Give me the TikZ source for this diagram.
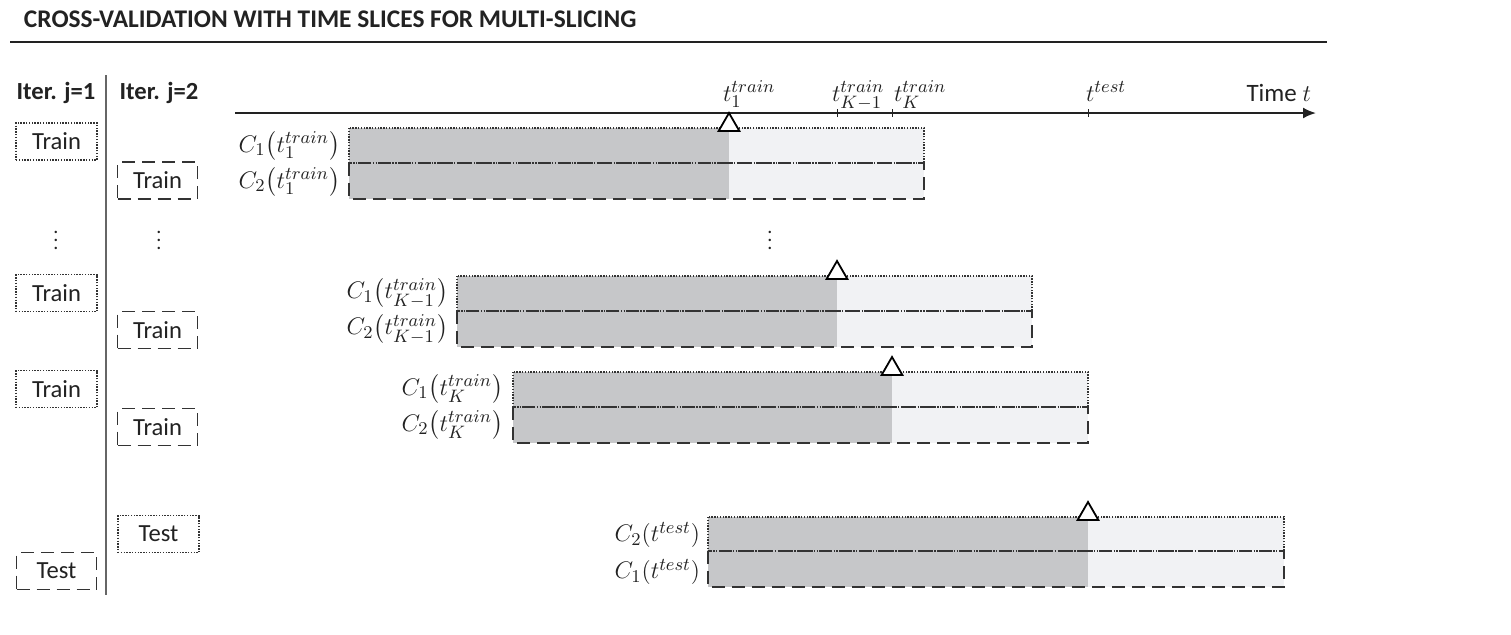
\documentclass[tikz,border=0pt]{standalone}
\usepackage{amsmath}
\usepackage{fontspec}
\setmainfont{Carlito}
\usetikzlibrary{shapes.geometric, arrows.meta}

\definecolor{trainfill}{HTML}{C6C7C9}
\definecolor{restfill}{HTML}{F1F2F4}
\definecolor{edge}{HTML}{333333}
\definecolor{ink}{HTML}{222222}

\begin{document}
\begin{tikzpicture}[x=0.5pt, y=-0.5pt, color=ink,
    every node/.style = {inner sep=0pt, outer sep=0pt},
    dotline/.style = {draw=edge, line width=0.7pt, dash pattern=on 0.7pt off 0.7pt},
    dashline/.style = {draw=edge, line width=0.9pt, dash pattern=on 6.5pt off 3.5pt},
    dotbox/.style = {dotline, minimum width=40.5pt, minimum height=18.5pt, font=\fontsize{12.3}{14}\selectfont},
    dashbox/.style = {dashline, minimum width=40pt, minimum height=18.5pt, font=\fontsize{12.3}{14}\selectfont},
    head/.style = {font=\fontsize{12.3}{14}\selectfont\bfseries},
    clabel/.style = {anchor=east, font=\fontsize{13}{15}\selectfont},
    tlabel/.style = {anchor=base west, font=\fontsize{12.5}{15}\selectfont},
    slicemark/.style = {draw=black, fill=white, line width=0.9pt, regular polygon, regular polygon sides=3, minimum size=12pt, anchor=corner 1}]
    \useasboundingbox (0,0) rectangle (1511,634);

    % title
    \node[anchor=base west, font=\fontsize{12.7}{14}\selectfont\bfseries] (title) at (24,27) {CROSS-VALIDATION WITH TIME SLICES FOR MULTI-SLICING};
    \coordinate (r0) at (10,42);
    \coordinate (r1) at (1327,42);
    \draw[line width=1.2pt] (r0) -- (r1);

    % iterations
    \node[head] (it1) at (56,93) {Iter. j=1};
    \node[head] (it2) at (159,93) {Iter. j=2};
    \coordinate (sep0) at (106,75);
    \coordinate (sep1) at (106,595);
    \draw[line width=0.7pt, gray!80!black] (sep0) -- (sep1);

    \node[dotbox] (a1) at (56.5,141.5) {Train};
    \node[dotbox] (a2) at (56.5,293) {Train};
    \node[dotbox] (a3) at (56.5,389) {Train};
    \node[dashbox] (a4) at (56.5,571) {Test};
    \node[dashbox] (b1) at (157.5,180.5) {Train};
    \node[dashbox] (b2) at (157.5,330) {Train};
    \node[dashbox] (b3) at (157.5,427) {Train};
    \node[dotbox] (b4) at (158.5,534) {Test};

    \node (v1) at (56,234) {$\vdots$};
    \node (v2) at (159,234) {$\vdots$};
    \node (v3) at (770,234) {$\vdots$};

    % time axis
    \coordinate (t0) at (235,113);
    \coordinate (tend) at (1316,113);
    \draw[line width=1pt, -{Latex[length=6.5pt, width=5.5pt]}] (t0) -- (tend);
    \draw[line width=0.5pt] (837,109) -- (837,117);
    \draw[line width=0.5pt] (892,109) -- (892,117);
    \draw[line width=0.5pt] (1088,109) -- (1088,117);
    \node[tlabel] (l1) at (723,101) {$t_1^{train}$};
    \node[tlabel] (l2) at (832,101) {$t_{K-1}^{train}$};
    \node[tlabel] (l3) at (894,101) {$t_K^{train}$};
    \node[tlabel] (l4) at (1086,101) {$t^{test}$};
    \node[anchor=base east, font=\fontsize{12.5}{14}\selectfont] (tt) at (1311,101) {Time $t$};

    % slice 1
    \fill[trainfill] (349,128) rectangle (729,199);
    \fill[restfill] (729,128) rectangle (924,199);
    \draw[dashline] (349,163) rectangle (924,199);
    \draw[dotline] (349,128) rectangle (924,163);
    \node[slicemark] (s1) at (729,113) {};
    \node[clabel] (c11) at (340,146) {$C_1\bigl(t_1^{train}\bigr)$};
    \node[clabel] (c21) at (340,182) {$C_2\bigl(t_1^{train}\bigr)$};

    % slice K-1
    \fill[trainfill] (457,276) rectangle (837,347);
    \fill[restfill] (837,276) rectangle (1032,347);
    \draw[dashline] (457,311) rectangle (1032,347);
    \draw[dotline] (457,276) rectangle (1032,311);
    \node[slicemark] (s2) at (837,261) {};
    \node[clabel] (c12) at (448,293) {$C_1\bigl(t_{K-1}^{train}\bigr)$};
    \node[clabel] (c22) at (448,329) {$C_2\bigl(t_{K-1}^{train}\bigr)$};

    % slice K
    \fill[trainfill] (513,372) rectangle (892,443);
    \fill[restfill] (892,372) rectangle (1088,443);
    \draw[dashline] (513,407) rectangle (1088,443);
    \draw[dotline] (513,372) rectangle (1088,407);
    \node[slicemark] (s3) at (892,357) {};
    \node[clabel] (c13) at (503,389) {$C_1\bigl(t_K^{train}\bigr)$};
    \node[clabel] (c23) at (503,425) {$C_2\bigl(t_K^{train}\bigr)$};

    % test slice
    \fill[trainfill] (708,517) rectangle (1088,587);
    \fill[restfill] (1088,517) rectangle (1284,587);
    \draw[dashline] (708,551) rectangle (1284,587);
    \draw[dotline] (708,517) rectangle (1284,551);
    \node[slicemark] (s4) at (1088,502) {};
    \node[clabel] (c24) at (700,535) {$C_2(t^{test})$};
    \node[clabel] (c14) at (700,572) {$C_1(t^{test})$};
\end{tikzpicture}
\end{document}
